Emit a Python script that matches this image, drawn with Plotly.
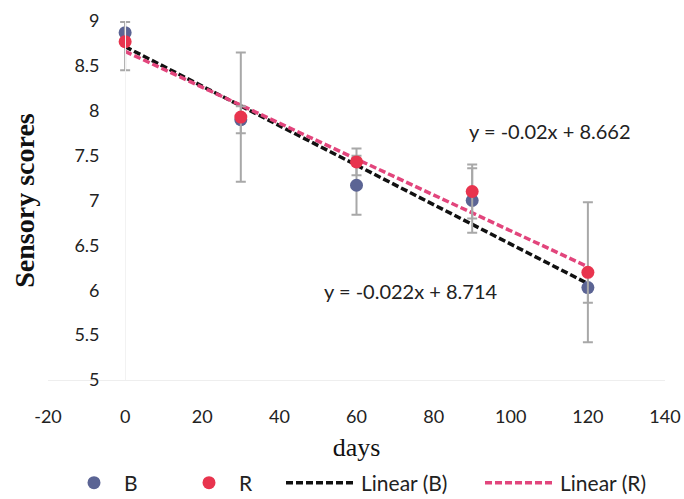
import numpy as np
import plotly.graph_objects as go

days = [0, 30, 60, 90, 120]
b_scores = [8.87, 7.90, 7.17, 7.00, 6.03]
b_err = [0.12, 0.15, 0.33, 0.36, 0.17]
r_scores = [8.77, 7.93, 7.43, 7.10, 6.20]
r_err = [0.32, 0.72, 0.15, 0.30, 0.78]

# trend line coefficients as printed on the chart
b_slope, b_intercept = -0.022, 8.714
r_slope, r_intercept = -0.02, 8.662
trend_x = [0, 120]

x_ticks = [-20, 0, 20, 40, 60, 80, 100, 120, 140]
y_ticks = [5, 5.5, 6, 6.5, 7, 7.5, 8, 8.5, 9]

B_COL = "#5b6494"
R_COL = "#e8344e"
ERR_COL = "#a8a8a8"
TICK_FONT = "Lato"
W, H = 684, 499

fig = go.Figure()

fig.add_trace(go.Scatter(
    x=trend_x, y=[b_slope * x + b_intercept for x in trend_x],
    mode="lines", name="Linear (B)", legend="legend2", legendrank=3,
    line=dict(color="#111111", width=3.5, dash="7px,3px")))
fig.add_trace(go.Scatter(
    x=trend_x, y=[r_slope * x + r_intercept for x in trend_x],
    mode="lines", name="Linear (R)", legend="legend2", legendrank=4,
    line=dict(color="#e2457c", width=3.5, dash="7px,3px")))

fig.add_trace(go.Scatter(
    x=days, y=b_scores, mode="markers", name="B", legendrank=1,
    marker=dict(color=B_COL, size=13),
    error_y=dict(type="data", array=b_err, color=ERR_COL, thickness=2, width=5)))
fig.add_trace(go.Scatter(
    x=days, y=r_scores, mode="markers", name="R", legendrank=2,
    marker=dict(color=R_COL, size=13),
    error_y=dict(type="data", array=r_err, color=ERR_COL, thickness=2, width=5)))

fig.add_annotation(x=110.2, y=7.77, text="y = -0.02x + 8.662", showarrow=False,
                   font=dict(family=TICK_FONT, size=20, color="#222"))
fig.add_annotation(x=74.2, y=5.99, text="y = -0.022x + 8.714", showarrow=False,
                   font=dict(family=TICK_FONT, size=20, color="#222"))

leg_font = dict(family=TICK_FONT, size=21, color="#222")
fig.update_layout(
    width=W, height=H,
    margin=dict(l=48, r=19, t=21, b=119),
    paper_bgcolor="white", plot_bgcolor="white",
    showlegend=True,
    legend=dict(orientation="h", xref="container", yref="container",
                x=64 / W, y=16 / H, xanchor="left", yanchor="middle",
                font=leg_font, itemwidth=50, entrywidth=50, traceorder="normal"),
    legend2=dict(orientation="h", xref="container", yref="container",
                 x=281 / W, y=16 / H, xanchor="left", yanchor="middle",
                 font=leg_font, itemwidth=70, entrywidth=114, traceorder="normal"),
    xaxis=dict(range=[-20, 140], tickvals=x_ticks, ticktext=[str(v) for v in x_ticks],
               showgrid=False, zeroline=False, showline=True, linecolor="#eeeeee",
               ticks="", ticklabelstandoff=20, automargin=False,
               ticklabeloverflow="allow",
               tickfont=dict(family=TICK_FONT, size=18, color="#222"),
               title=dict(text="days", font=dict(family="Liberation Serif", size=26, color="#111"),
                          standoff=16)),
    yaxis=dict(range=[5, 9], tickvals=y_ticks, ticktext=[f"{v:g}" for v in y_ticks],
               showgrid=False, zeroline=False, showline=True, linecolor="#f2f2f2",
               anchor="free", position=(0 - (-20)) / 160, automargin=False,
               ticks="", ticklabelstandoff=22,
               tickfont=dict(family=TICK_FONT, size=18, color="#222"),
               title=dict(text="<b>Sensory scores</b>",
                          font=dict(family="Liberation Serif", size=28, color="#111"),
                          standoff=30)),
)

fig.write_html("out.html", config={"displayModeBar": False},
               post_script="document.body.style.margin='0px';")
